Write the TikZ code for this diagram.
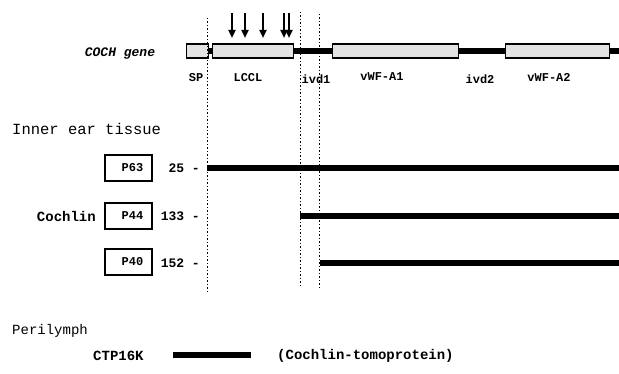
\documentclass[tikz,border=0pt]{standalone}
\usepackage{fontspec}
\setmainfont{Liberation Mono}
\usetikzlibrary{arrows.meta}
\begin{document}
\begin{tikzpicture}[x=1pt,y=-1pt,
 genebox/.style={draw, line width=1.2pt, fill=gray!22, minimum height=14pt, inner sep=0pt, anchor=west},
 geneline/.style={line width=6pt},
 vdot/.style={line width=1pt, dash pattern=on 1.5pt off 2pt},
 cut/.style={-{Triangle[width=7pt,length=8pt]}, line width=2pt},
 glab/.style={font=\bfseries\fontsize{12}{13}\selectfont, inner sep=0pt},
 pbox/.style={draw, line width=1.8pt, minimum width=47pt, minimum height=26pt, inner sep=0pt, font=\bfseries\fontsize{12}{13}\selectfont},
 num/.style={font=\bfseries\fontsize{13}{14}\selectfont, anchor=east, inner sep=0pt},
 bar/.style={line width=6pt},
 ttl/.style={anchor=west, inner sep=0pt},
 ]
\useasboundingbox (0,0) rectangle (619,374);

% gene structure
\node[genebox, minimum width=22pt] (sp) at (186,51) {};
\node[genebox, minimum width=81pt] (lccl) at (212,51) {};
\node[genebox, minimum width=126pt] (a1) at (332,51) {};
\node[genebox, minimum width=104pt] (a2) at (505,51) {};
\coordinate (gend) at (619,51);
\draw[geneline] (sp.east) -- (lccl.west);
\draw[geneline] (lccl.east) -- (a1.west);
\draw[geneline] (a1.east) -- (a2.west);
\draw[geneline] (a2.east) -- (gend);
% redraw boxes over line ends
\node[genebox, minimum width=22pt] at (186,51) {};
\node[genebox, minimum width=81pt] at (212,51) {};
\node[genebox, minimum width=126pt] at (332,51) {};
\node[genebox, minimum width=104pt] at (505,51) {};

\node[font=\bfseries\itshape\fontsize{13}{14}\selectfont, inner sep=0pt] (coch) at (120,54) {COCH gene};

\node[glab] (lsp) at (196,78) {SP};
\node[glab] (llccl) at (248,78) {LCCL};
\node[glab] (livd1) at (316,79) {ivd1};
\node[glab] (la1) at (382,77) {vWF-A1};
\node[glab] (livd2) at (480,79) {ivd2};
\node[glab] (la2) at (549,77) {vWF-A2};

% cleavage arrows
\foreach \x/\n in {232/c1,245/c2,263/c3,284/c4,289/c5}{
  \coordinate (\n t) at (\x,13);
  \coordinate (\n b) at (\x,38);
  \draw[cut] (\n t) -- (\n b);
}

% dotted vertical lines
\coordinate (d1t) at (207.5,18); \coordinate (d1b) at (207.5,292);
\coordinate (d2t) at (300.5,12); \coordinate (d2b) at (300.5,288);
\coordinate (d3t) at (319.5,14); \coordinate (d3b) at (319.5,288);
\draw[vdot] (d1t) -- (d1b);
\draw[vdot] (d2t) -- (d2b);
\draw[vdot] (d3t) -- (d3b);

% inner ear tissue
\node[ttl, font=\fontsize{15.5}{17}\selectfont] (inner) at (12,129) {Inner ear tissue};

\node[pbox] (p63) at (128.5,168) {\hspace*{8pt}P63};
\node[pbox] (p44) at (128.5,216) {\hspace*{8pt}P44};
\node[pbox] (p40) at (128.5,262) {\hspace*{8pt}P40};
\node[font=\bfseries\fontsize{14}{16}\selectfont, anchor=east, inner sep=0pt] (coch2) at (96,216) {Cochlin};

\node[num] (n25) at (200,168) {25 -};
\node[num] (n133) at (200,216) {133 -};
\node[num] (n152) at (200,263) {152 -};

\coordinate (b1s) at (207,168); \coordinate (b1e) at (619,168);
\coordinate (b2s) at (300,216); \coordinate (b2e) at (619,216);
\coordinate (b3s) at (320,263); \coordinate (b3e) at (619,263);
\draw[bar] (b1s) -- (b1e);
\draw[bar] (b2s) -- (b2e);
\draw[bar] (b3s) -- (b3e);

% perilymph
\node[ttl, font=\fontsize{14}{16}\selectfont] (peri) at (12,331) {Perilymph};
\node[font=\bfseries\fontsize{14}{16}\selectfont, anchor=west, inner sep=0pt] (ctp) at (93,356) {CTP16K};
\coordinate (cbs) at (173,355); \coordinate (cbe) at (251,355);
\draw[bar] (cbs) -- (cbe);
\node[font=\bfseries\fontsize{14}{16}\selectfont, anchor=west, inner sep=0pt] (tomo) at (277,356) {(Cochlin-tomoprotein)};
\end{tikzpicture}
\end{document}
